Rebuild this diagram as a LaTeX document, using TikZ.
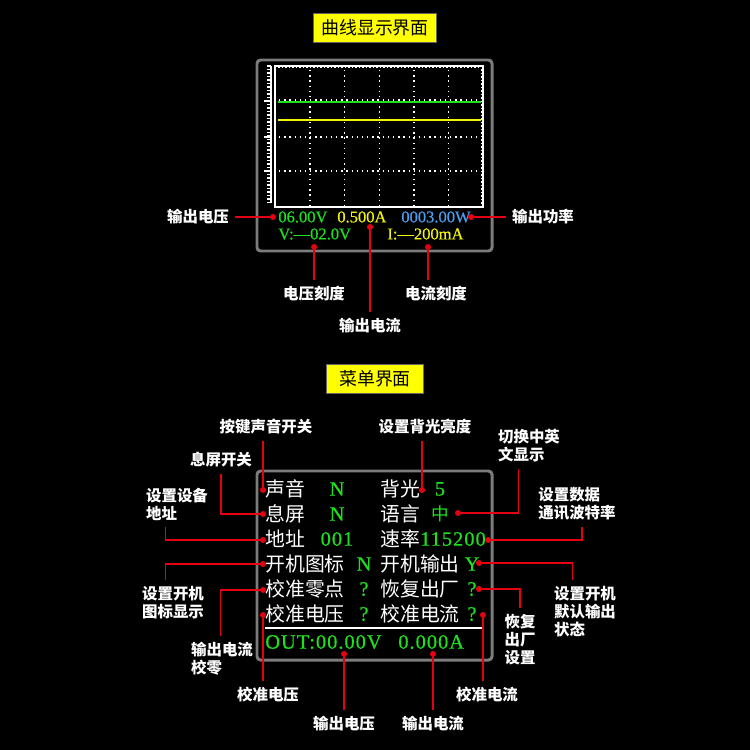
\documentclass[tikz,border=0pt]{standalone}
\usepackage{fontspec}
\setmainfont{Liberation Serif}
\newfontfamily\cjk{Noto Sans CJK SC}
\newfontfamily\lcd[FakeBold=0.6]{Liberation Serif}
\usepackage{tikz}
\usetikzlibrary{calc}
\definecolor{ptRed}{HTML}{E50012}
\definecolor{frameGray}{HTML}{7C7C7C}
\definecolor{scrGreen}{HTML}{1EE01E}
\definecolor{scrYellow}{HTML}{F2F20A}
\definecolor{scrBlue}{HTML}{4A9EF0}
\definecolor{tagYellow}{HTML}{FFFF00}

\begin{document}
\begin{tikzpicture}[x=0.02cm,y=-0.02cm,
  tag/.style={fill=tagYellow,draw=black!60,line width=0.4pt,text=black,inner sep=0,
    font=\cjk\fontsize{10.2}{12}\selectfont,minimum height=16.6pt},
  note/.style={text=white,font=\cjk\bfseries\fontsize{8.8}{10.3}\selectfont,align=left,inner sep=0},
  menu/.style={text=white,font=\cjk\fontsize{11.3}{13}\selectfont,anchor=west,inner sep=0},
  val/.style={text=scrGreen,font=\lcd\fontsize{11.6}{13}\selectfont\addfontfeature{LetterSpace=5},inner sep=0},
  num/.style={font=\lcd\fontsize{9.4}{11}\selectfont,anchor=west,inner sep=0},
  redpt/.style={circle,fill=ptRed,inner sep=0,minimum size=3.4pt},
  lead/.style={draw=ptRed,line width=0.85pt,shorten >=3.5pt},
  scrframe/.style={draw=frameGray,line width=1.7pt,rounded corners=2pt},
  gridline/.style={white,line width=0.75pt,dash pattern=on 0.75pt off 2.2pt},
  tick/.style={white,line width=0.8pt}
]
  \fill[black] (0,0) rectangle (750,750);

  % curve screen
  \node[tag,minimum width=70.3pt] (t1) at (375,28) {曲线显示界面};
  \draw[scrframe] (257,60) rectangle (492,251);
  \draw[white,line width=0.85pt] (275,66) rectangle (483,207);
  \draw[white,line width=0.8pt] (271,66) -- (271,203);
  \foreach \y in {66,69.5,...,203} \draw[tick] (266.5,\y) -- (271,\y);
  \foreach \y in {101,137,171} \draw[tick] (264,\y) -- (271,\y);
  \foreach \x in {279,282.5,...,481} \draw[tick] (\x,66) -- (\x,68.5);
  \foreach \y in {70,73.5,...,205} \draw[tick] (483,\y) -- (480.5,\y);
  \foreach \x in {310,344.7,379.3,414,448.7} \draw[gridline] (\x,70) -- (\x,205);
  \foreach \y in {100,137,171} \draw[gridline] (279,\y) -- (480,\y);
  \draw[scrGreen,line width=1.2pt] (278,102) -- (481,102);
  \draw[scrYellow,line width=1.2pt] (278,120) -- (481,120);

  \node[num,text=scrGreen] (r1) at (278,217) {06.00V};
  \node[num,text=scrYellow] (r2) at (337,217) {0.500A};
  \node[num,text=scrBlue] (r3) at (401,217) {0003.00W};
  \node[num,text=scrGreen] (r4) at (278,234) {V:—02.0V};
  \node[num,text=scrYellow] (r5) at (387,234) {I:—200mA};

  \node[redpt] (p1) at (273,217) {};
  \node[redpt] (p2) at (471,217) {};
  \node[redpt] (p3) at (314,247) {};
  \node[redpt] (p4) at (370,227) {};
  \node[redpt] (p5) at (428,247) {};
  \node[note] (n1) at (198,217) {输出电压};
  \node[note] (n2) at (543,217) {输出功率};
  \node[note] (n3) at (314,294) {电压刻度};
  \node[note] (n4) at (370,326) {输出电流};
  \node[note] (n5) at (436,294) {电流刻度};
  \draw[lead] (p1) -- (n1);
  \draw[lead] (p2) -- (n2);
  \draw[lead] (p3) -- (p3 |- n3.north);
  \draw[lead] (p4) -- (p4 |- n4.north);
  \draw[lead] (p5) -- (p5 |- n5.north);

  % menu screen
  \node[tag,minimum width=55.6pt] (t2) at (375,378.5) {菜单界面};
  \draw[scrframe] (257,471) rectangle (492,660);
  \draw[white,line width=1.1pt] (265,628) -- (483,628);

  \node[menu] (m1) at (265,489) {声音};
  \node[menu] (m2) at (265,514) {息屏};
  \node[menu] (m3) at (265,539) {地址};
  \node[menu] (m4) at (265,564) {开机图标};
  \node[menu] (m5) at (265,589) {校准零点};
  \node[menu] (m6) at (265,614) {校准电压};
  \node[menu] (m7) at (380,489) {背光};
  \node[menu] (m8) at (380,514) {语言};
  \node[menu] (m9) at (380,539) {速率};
  \node[menu] (m10) at (380,564) {开机输出};
  \node[menu] (m11) at (380,589) {恢复出厂};
  \node[menu] (m12) at (380,614) {校准电流};

  \node[val] (v1) at (337,489) {N};
  \node[val] (v2) at (337,514) {N};
  \node[val] (v3) at (337,539) {001};
  \node[val] (v4) at (364,564) {N};
  \node[val] (v5) at (364,589) {?};
  \node[val] (v6) at (364,614) {?};
  \node[val] (v7) at (440,489) {5};
  \node[val,font=\cjk\fontsize{10}{12}\selectfont] (v8) at (440,514) {中};
  \node[val] (v9) at (453,539) {115200};
  \node[val] (v10) at (472,564) {Y};
  \node[val] (v11) at (472,589) {?};
  \node[val] (v12) at (472,614) {?};
  \node[val,anchor=west] (o1) at (265,642) {OUT:00.00V};
  \node[val,anchor=west] (o2) at (398,642) {0.000A};

  \node[redpt] (p6) at (263,490) {};
  \node[redpt] (p7) at (422,490) {};
  \node[redpt] (p8) at (263,514) {};
  \node[redpt] (p9) at (458,513) {};
  \node[redpt] (p10) at (263,540) {};
  \node[redpt] (p11) at (488,540) {};
  \node[redpt] (p12) at (263,564) {};
  \node[redpt] (p13) at (479,563) {};
  \node[redpt] (p14) at (263,590) {};
  \node[redpt] (p15) at (479,589) {};
  \node[redpt] (p16) at (263,615) {};
  \node[redpt] (p17) at (483,615) {};
  \node[redpt] (p18) at (344,654) {};
  \node[redpt] (p19) at (433,654) {};

  \node[note] (n6) at (266,427) {按键声音开关};
  \node[note] (n7) at (425,427) {设置背光亮度};
  \node[note] (n8) at (221,460) {息屏开关};
  \node[note] (n9) at (529,446) {切换中英\\文显示};
  \node[note] (n10) at (177,504) {设置设备\\地址};
  \node[note] (n11) at (577,504) {设置数据\\通讯波特率};
  \node[note] (n12) at (173,603) {设置开机\\图标显示};
  \node[note] (n13) at (585,612) {设置开机\\默认输出\\状态};
  \node[note] (n14) at (222,659) {输出电流\\校零};
  \node[note] (n15) at (520,640) {恢复\\出厂\\设置};
  \node[note] (n16) at (268,695) {校准电压};
  \node[note] (n17) at (487,695) {校准电流};
  \node[note] (n18) at (344,724) {输出电压};
  \node[note] (n19) at (433,724) {输出电流};

  \draw[lead] (p6) -- (p6 |- n6.south);
  \draw[lead] (p7) -- (p7 |- n7.south);
  \draw[lead] (p8) -| (n8.south);
  \draw[lead] (p9) -| ($(n9.south west)+(21,0)$);
  \draw[lead] (p10) -| ($(n10.south west)+(20,0)$);
  \draw[lead] (p11) -| ($(n11.south west)+(44,0)$);
  \draw[lead] (p12) -| ($(n12.north west)+(24,0)$);
  \draw[lead] (p13) -| ($(n13.north west)+(19,0)$);
  \draw[lead] (p14) -| ($(n14.north west)+(30,0)$);
  \draw[lead] (p15) -| (n15.north);
  \draw[lead] (p16) -- (p16 |- n16.north);
  \draw[lead] (p17) -- (p17 |- n17.north);
  \draw[lead] (p18) -- (n18);
  \draw[lead] (p19) -- (n19);
\end{tikzpicture}
\end{document}
